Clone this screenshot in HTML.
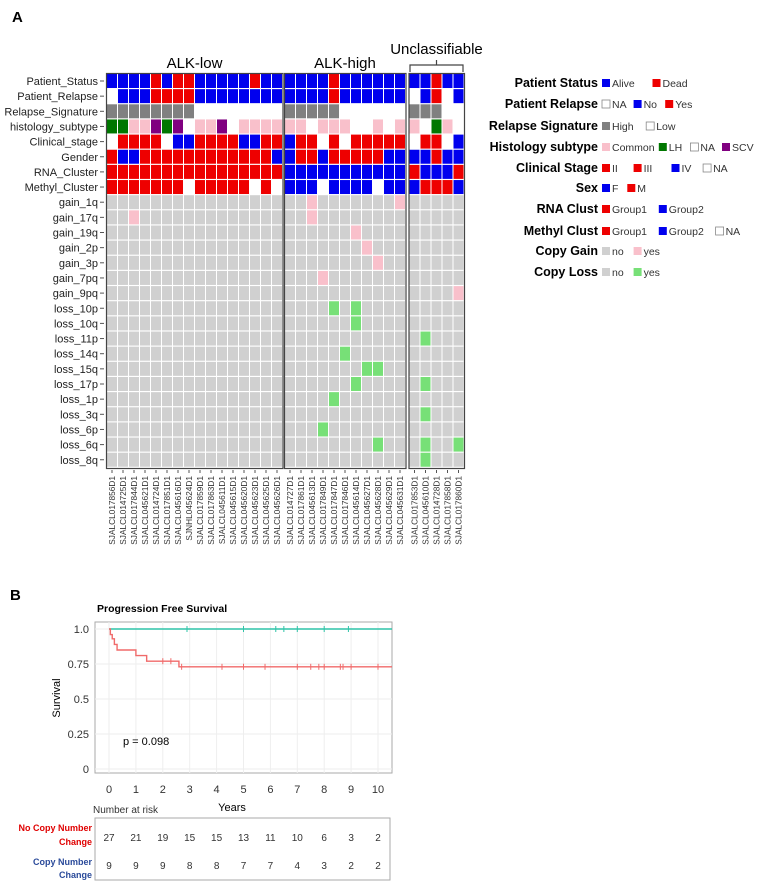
<!DOCTYPE html>
<html><head><meta charset="utf-8"><style>
body{margin:0;background:#fff;}
svg{display:block;font-family:"Liberation Sans",Arial,sans-serif;}
</style></head><body>
<svg id="fig" width="763" height="886" viewBox="0 0 763 886">
<text x="12" y="22" font-size="15" font-weight="bold">A</text>
<text x="10" y="600" font-size="15" font-weight="bold">B</text>
<g id="heat"></g>
<g id="legend"></g>
<g id="km"></g>
</svg>
<script>
const NS="http://www.w3.org/2000/svg";
function mk(p,t,a,txt){const e=document.createElementNS(NS,t);for(const k in a)e.setAttribute(k,a[k]);if(txt!==undefined)e.textContent=txt;p.appendChild(e);return e;}
const C={B:"#0000ee",R:"#ee0000",W:"#ffffff",G:"#808080",P:"#f9c0cb",N:"#007700",V:"#800080",g:"#d0d0d0",y:"#f9c0cb",l:"#77e077"};

// ---- heatmap data ----
const groups=["ALK-low","ALK-high","Unclassifiable"];
const groupSizes=[16,11,5];
const samples=["SJALCL017856D1","SJALCL014725D1","SJALCL017844D1","SJALCL045621D1","SJALCL014724D1","SJALCL017851D1","SJALCL045616D1","SJNHL045624D1","SJALCL017859D1","SJALCL017863D1","SJALCL045611D1","SJALCL045615D1","SJALCL045620D1","SJALCL045623D1","SJALCL045625D1","SJALCL045626D1",
"SJALCL014727D1","SJALCL017861D1","SJALCL045613D1","SJALCL017849D1","SJALCL017847D1","SJALCL017846D1","SJALCL045614D1","SJALCL045627D1","SJALCL045628D1","SJALCL045629D1","SJALCL045631D1",
"SJALCL017853D1","SJALCL045610D1","SJALCL014728D1","SJALCL017858D1","SJALCL017860D1"];
const clinRows=["Patient_Status","Patient_Relapse","Relapse_Signature","histology_subtype","Clinical_stage","Gender","RNA_Cluster","Methyl_Cluster"];
const clinVals=[
"BBBBRBRRBBBBBRBB"+"BBBBRBBBBBB"+"BBRBB",
"WBBBRRRRBBBBBBBB"+"BBBBRBBBBBB"+"WBRWB",
"GGGGGGGGWWWWWWWW"+"GGGGGWWWWWW"+"GGGWW",
"NNPPVNVWPPVWPPPP"+"PPWPPPWWPWP"+"PWNPW",
"WRRRRWBBRRRRBBRR"+"BRRWRWRRRRR"+"WRRWB",
"RBBRRRRRRRRRRRRB"+"BRRBRRRRRBB"+"BBRBB",
"RRRRRRRRRRRRRRRR"+"BBBBBBBBBBB"+"RBBBR",
"RRRRRRRWRRRRRWRW"+"BBBWBBBBWBB"+"BRRRB"];
const cnRows=["gain_1q","gain_17q","gain_19q","gain_2p","gain_3p","gain_7pq","gain_9pq","loss_10p","loss_10q","loss_11p","loss_14q","loss_15q","loss_17p","loss_1p","loss_3q","loss_6p","loss_6q","loss_8q"];
const cnHits=[[18,26],[2,18],[22],[23],[24],[19],[31],[20,22],[22],[28],[21],[23,24],[22,28],[20],[28],[19],[24,28,31],[28]];

const H=document.getElementById("heat");
const gx0=[106.5,284.5,409];const cw=11;
function colX(i){let g=0,k=i;while(k>=groupSizes[g]){k-=groupSizes[g];g++;}return gx0[g]+k*cw;}
function rowY(r){return 74+r*15.15;}
const allRows=clinRows.concat(cnRows);
allRows.forEach((name,r)=>{
  const y=rowY(r),h=14;
  const lab=mk(H,"text",{x:98,y:y+h/2+4,"font-size":11,"text-anchor":"end",fill:"#222"},name);
  
  
  mk(H,"line",{x1:100,x2:104,y1:y+h/2,y2:y+h/2,stroke:"#555","stroke-width":1});
  for(let i=0;i<samples.length;i++){
    let col;
    if(r<8)col=C[clinVals[r][i]];
    else{const hit=cnHits[r-8].includes(i);col=hit?(cnRows[r-8].startsWith("gain")?C.y:C.l):C.g;}
    const rc=mk(H,"rect",{x:colX(i)+0.5,y:y,width:cw-1,height:h,fill:col});
    
    
  }
});
const gcenter=[];
for(let g=0;g<3;g++){
  const x=gx0[g],w=groupSizes[g]*cw;
  const bx=mk(H,"rect",{x:x,y:73.5,width:w+0.5,height:395,fill:"none",stroke:"#444","stroke-width":1.2});
  
  
  gcenter.push(x+w/2);
}
mk(H,"text",{x:gcenter[0],y:68,"font-size":15,"text-anchor":"middle"},"ALK-low");
mk(H,"text",{x:gcenter[1],y:68,"font-size":15,"text-anchor":"middle"},"ALK-high");
mk(H,"text",{x:gcenter[2],y:54,"font-size":15,"text-anchor":"middle"},"Unclassifiable");
mk(H,"path",{d:`M${gx0[2]+1},72 V65 H${gx0[2]+54} V72 M${gcenter[2]},65 V60`,fill:"none",stroke:"#444","stroke-width":1.2});
samples.forEach((s,i)=>{
  const cx=colX(i)+cw/2;
  mk(H,"line",{x1:cx,x2:cx,y1:470,y2:473,stroke:"#555"});
  const t=mk(H,"text",{x:0,y:0,"font-size":8.3,"text-anchor":"end",fill:"#333",transform:`translate(${cx+3},476) rotate(-90)`},s);
  
  
});

// ---- legend ----
const L=document.getElementById("legend");
const legTitles=["Patient Status","Patient Relapse","Relapse Signature","Histology  subtype","Clinical Stage","Sex","RNA  Clust","Methyl  Clust","Copy  Gain","Copy  Loss"];
const legItems=[[["B","Alive"],["R","Dead"]],[["W","NA"],["B","No"],["R","Yes"]],[["G","High"],["W","Low"]],[["P","Common"],["N","LH"],["W","NA"],["V","SCV"]],[["R","II"],["R","III"],["B","IV"],["W","NA"]],[["B","F"],["R","M"]],[["R","Group1"],["B","Group2"]],[["R","Group1"],["B","Group2"],["W","NA"]],[["g","no"],["y","yes"]],[["g","no"],["l","yes"]]];
const legY=[83,104,126,147,168,188,209,231,251,272];
legTitles.forEach((t,i)=>{
  const y=legY[i];
  const tt=mk(L,"text",{x:598,y:y+4,"font-size":12.5,"font-weight":"bold","text-anchor":"end"},t);
  
  
  let x=602;
  legItems[i].forEach(([c,lab])=>{
    mk(L,"rect",{x:x,y:y-4,width:8,height:8,fill:C[c],stroke:c==="W"?"#888":"none","stroke-width":0.8});
    const lt=mk(L,"text",{x:x+10,y:y+4,"font-size":10.5,fill:"#333"},lab);
    
    
    x+=10+lab.length*6.3+9;
  });
});

// ---- KM ----
const K=document.getElementById("km");
const xTicks=[0,1,2,3,4,5,6,7,8,9,10];
const yTicks=[0,0.25,0.5,0.75,1.0];
const yTickLabels=["0","0.25","0.5","0.75","1.0"];
const redTimes=[0,0.05,0.12,0.2,0.3,1.0,1.4,2.6];
const redSurv=[1.0,0.96,0.93,0.89,0.85,0.81,0.77,0.73];
const redCensor=[2.0,2.3,2.7,4.2,5.0,5.8,7.0,7.5,7.8,8.0,8.6,8.7,9.0,10.0];
const greenCensor=[2.9,5.0,6.2,6.5,7.0,8.0,8.9];
const riskNo=[27,21,19,15,15,13,11,10,6,3,2];
const riskCN=[9,9,9,8,8,7,7,4,3,2,2];
const sx=v=>109+v*26.9, sy=v=>769-v*140;
mk(K,"text",{x:97,y:612,"font-size":10.5,"font-weight":"bold"},"Progression Free Survival");
mk(K,"rect",{x:95,y:622,width:297,height:151,fill:"#fff",stroke:"#aaa"});
xTicks.forEach(t=>{mk(K,"line",{x1:sx(t),x2:sx(t),y1:622,y2:773,stroke:"#eee"});
  const tl=mk(K,"text",{x:sx(t),y:793,"font-size":11,"text-anchor":"middle",fill:"#333"},String(t));
  });
yTicks.forEach((t,i)=>{mk(K,"line",{x1:95,x2:392,y1:sy(t),y2:sy(t),stroke:"#eee"});
  const tl=mk(K,"text",{x:89,y:sy(t)+4,"font-size":11,"text-anchor":"end",fill:"#333"},yTickLabels[i]);
  });
const yt=mk(K,"text",{x:0,y:0,"font-size":11,"text-anchor":"middle",transform:"translate(60,698) rotate(-90)"},"Survival");

const xt=mk(K,"text",{x:232,y:811,"font-size":11,"text-anchor":"middle"},"Years");

const gl=mk(K,"line",{x1:sx(0),x2:392,y1:sy(1),y2:sy(1),stroke:"#2fc4a8","stroke-width":1.6});

greenCensor.forEach(t=>mk(K,"line",{x1:sx(t),x2:sx(t),y1:sy(1)-3,y2:sy(1)+3,stroke:"#2fc4a8"}));
let d=`M${sx(redTimes[0])},${sy(redSurv[0])}`;
for(let i=1;i<redTimes.length;i++){d+=` H${sx(redTimes[i])} V${sy(redSurv[i])}`;}
d+=` H392`;
const rp=mk(K,"path",{d:d,fill:"none",stroke:"#f06a6a","stroke-width":1.4});

function survAt(t){let s=1;for(let i=0;i<redTimes.length;i++)if(redTimes[i]<=t)s=redSurv[i];return s;}
redCensor.forEach(t=>{const y=sy(survAt(t));mk(K,"line",{x1:sx(t),x2:sx(t),y1:y-3,y2:y+3,stroke:"#f06a6a"});});
mk(K,"text",{x:123,y:745,"font-size":11},"p = 0.098");
mk(K,"text",{x:93,y:813,"font-size":10,fill:"#333"},"Number at risk");
mk(K,"rect",{x:95,y:818,width:295,height:62,fill:"#fff",stroke:"#aaa"});
mk(K,"text",{x:92,y:831,"font-size":9,"font-weight":"bold","text-anchor":"end",fill:"#e00000"},"No Copy Number");
mk(K,"text",{x:92,y:845,"font-size":9,"font-weight":"bold","text-anchor":"end",fill:"#e00000"},"Change");
mk(K,"text",{x:92,y:865,"font-size":9,"font-weight":"bold","text-anchor":"end",fill:"#2a4a9a"},"Copy Number");
mk(K,"text",{x:92,y:878,"font-size":9,"font-weight":"bold","text-anchor":"end",fill:"#2a4a9a"},"Change");
xTicks.forEach((t,i)=>{
  const a=mk(K,"text",{x:sx(t),y:841,"font-size":10,"text-anchor":"middle",fill:"#333"},String(riskNo[i]));
  
  const b=mk(K,"text",{x:sx(t),y:869,"font-size":10,"text-anchor":"middle",fill:"#333"},String(riskCN[i]));
  
});
</script>
</body></html>
